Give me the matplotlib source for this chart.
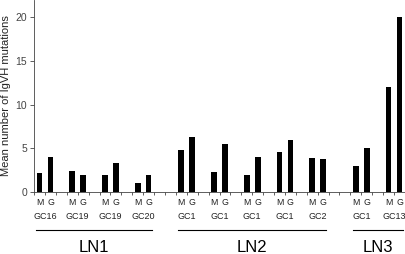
import numpy as np
import matplotlib
matplotlib.use('Agg')
import matplotlib.pyplot as plt
import matplotlib.transforms as mtransforms

plt.rcParams['font.family'] = ['Liberation Sans', 'DejaVu Sans']

# germinal centres in plot order, with the lymph node they belong to
gc_labels = ['GC16', 'GC19', 'GC19', 'GC20', 'GC1', 'GC1', 'GC1', 'GC1', 'GC2', 'GC1', 'GC13']
gc_node = ['LN1', 'LN1', 'LN1', 'LN1', 'LN2', 'LN2', 'LN2', 'LN2', 'LN2', 'LN3', 'LN3']
m_values = [2.2, 2.4, 2.0, 1.0, 4.8, 2.3, 2.0, 4.6, 3.9, 3.0, 12.0]
g_values = [4.0, 2.0, 3.3, 2.0, 6.3, 5.5, 4.0, 6.0, 3.8, 5.0, 20.0]
nodes = ['LN1', 'LN2', 'LN3']

# slot positions: M, G, gap within a node, extra gap between nodes
pos = []
slot = 0
for i, node in enumerate(gc_node):
    if i > 0:
        slot += 3 if node == gc_node[i - 1] else 4
    pos.append(slot)
pos = np.array(pos)

fig = plt.figure(figsize=(4.06, 2.54), dpi=100)
ax = fig.add_axes([0.084, 0.244, 0.916, 0.756])

w = 0.52
ax.bar(pos, m_values, width=w, color='black')
ax.bar(pos + 1, g_values, width=w, color='black')

ax.set_xlim(-0.37, 33.6)
ax.set_ylim(0, 22)
ax.set_yticks([0, 5, 10, 15, 20])
ax.tick_params(axis='y', labelsize=7.5, direction='out', length=3, width=0.6,
               colors='#444444', pad=2)
ax.set_xticks(np.arange(-0.5, 34, 1.0))
ax.set_xticklabels([])
ax.tick_params(axis='x', direction='out', length=2.5, width=0.6, colors='#444444')
ax.set_ylabel('Mean number of IgVH mutations', fontsize=8, labelpad=3, color='#222222')
for side in ['top', 'right']:
    ax.spines[side].set_visible(False)
for side in ['left', 'bottom']:
    ax.spines[side].set_linewidth(0.6)
    ax.spines[side].set_color('#444444')

trans = mtransforms.blended_transform_factory(ax.transData, ax.transAxes)
for p, lab in zip(pos, gc_labels):
    ax.text(p, -0.057, 'M', transform=trans, ha='center', va='center', fontsize=6.3, color='#222222')
    ax.text(p + 1, -0.057, 'G', transform=trans, ha='center', va='center', fontsize=6.3, color='#222222')
    ax.text(p + 0.5, -0.127, lab, transform=trans, ha='center', va='center', fontsize=6.5, color='#222222')

for node in nodes:
    ps = [p for p, n in zip(pos, gc_node) if n == node]
    x0, x1 = ps[0] - 0.3, ps[-1] + 1.3
    ax.plot([x0, x1], [-0.198, -0.198], transform=trans, color='black', lw=0.8, clip_on=False)
    ax.text((x0 + x1) / 2, -0.29, node, transform=trans, ha='center', va='center', fontsize=12)

fig.savefig('out.png', dpi=100)
